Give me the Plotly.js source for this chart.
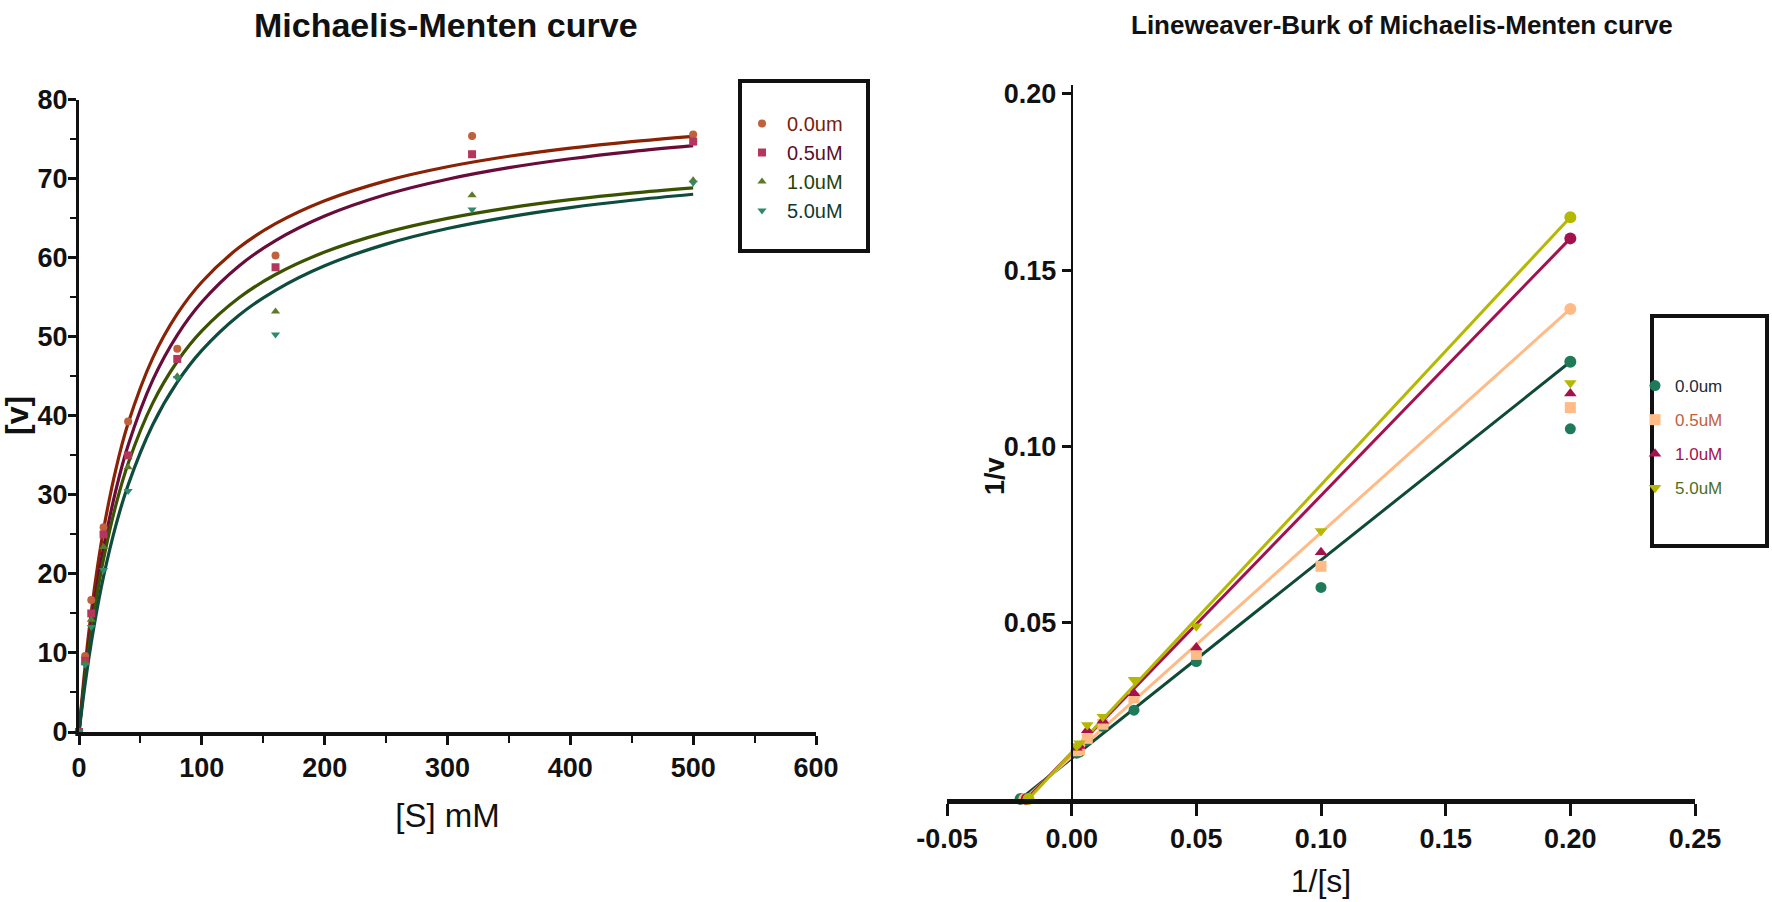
<!DOCTYPE html>
<html><head><meta charset="utf-8">
<script src="https://cdn.plot.ly/plotly-3.0.1.min.js"></script>
<style>html,body{margin:0;padding:0;background:#fff}#chart{width:1772px;height:902px}</style>
</head><body><div id="chart"></div>
<script>
// ---------- data: left (Michaelis-Menten) ----------
const seriesNames = ['0.0um', '0.5uM', '1.0uM', '5.0uM'];
const substrate = [0, 5, 10, 20, 40, 80, 160, 320, 500];
const v00 = [0, 9.6, 16.7, 25.9, 39.3, 48.5, 60.3, 75.4, 75.6];
const v05 = [0, 9.0, 15.0, 25.0, 35.0, 47.2, 58.8, 73.1, 74.7];
const v10 = [0, 8.7, 14.2, 23.4, 33.5, 45.0, 53.2, 67.9, 69.8];
const v50 = [0, 8.5, 13.3, 20.5, 30.5, 44.8, 50.3, 66.1, 69.5];

// fitted curves
const curveS = [0, 5, 10, 15, 20, 30, 40, 60, 80, 100, 130, 160, 200, 250, 300, 350, 400, 450, 500];
const curve00 = [0, 8.37, 15.19, 20.85, 25.63, 33.24, 39.05, 47.31, 52.90, 56.94, 61.26, 64.31, 67.21, 69.73, 71.51, 72.84, 73.87, 74.70, 75.37];
const curve05 = [0, 7.42, 13.60, 18.83, 23.31, 30.60, 36.27, 44.51, 50.22, 54.40, 58.93, 62.17, 65.28, 68.00, 69.94, 71.40, 72.53, 73.44, 74.18];
const curve10 = [0, 7.00, 12.81, 17.72, 21.91, 28.71, 33.98, 41.61, 46.88, 50.74, 54.91, 57.88, 60.72, 63.21, 64.99, 66.32, 67.35, 68.18, 68.85];
const curve50 = [0, 6.11, 11.31, 15.79, 19.69, 26.14, 31.26, 38.87, 44.26, 48.28, 52.70, 55.89, 58.99, 61.73, 63.70, 65.18, 66.35, 67.28, 68.04];

// ---------- data: right (Lineweaver-Burk) ----------
const invS = [0.2, 0.1, 0.05, 0.025, 0.0125, 0.00625, 0.003125, 0.002];
const invV00 = [0.105, 0.060, 0.039, 0.0252, 0.0206, 0.0166, 0.0133, 0.0130];
const invV05 = [0.111, 0.066, 0.041, 0.0287, 0.0212, 0.0172, 0.0140, 0.0137];
const invV10 = [0.115, 0.070, 0.043, 0.0300, 0.0222, 0.0195, 0.0150, 0.0145];
const invV50 = [0.118, 0.076, 0.049, 0.0338, 0.0233, 0.0210, 0.0158, 0.0150];

const fitX00 = [-0.0205, 0.2], fitY00 = [0, 0.124];
const fitX05 = [-0.0190, 0.2], fitY05 = [0, 0.139];
const fitX10 = [-0.0180, 0.2], fitY10 = [0, 0.159];
const fitX50 = [-0.0173, 0.2], fitY50 = [0, 0.165];

const leftXTicks = [0, 100, 200, 300, 400, 500, 600];
const rightXTickVals = [-0.05, 0, 0.05, 0.10, 0.15, 0.20, 0.25];
const rightXTickText = ['-0.05', '0.00', '0.05', '0.10', '0.15', '0.20', '0.25'];
const rightYTickVals = [0.05, 0.10, 0.15, 0.20];
const rightYTickText = ['0.05', '0.10', '0.15', '0.20'];

// ---------- styles ----------
const W = 1772, H = 902;
const SANS = '"Liberation Sans", Arial, Helvetica, sans-serif';

const leftMarkerCol = ['#c0603c', '#b5365c', '#5c7a2a', '#2f8a6c'];
const leftCurveCol = ['#8a2306', '#6a0c3a', '#3b5200', '#0e4c3e'];
const leftTextCol = ['#7a1d0c', '#5a0f2c', '#24420a', '#0f3a2e'];
const leftSymbols = ['circle', 'square', 'triangle-up', 'triangle-down'];

const rightMarkerCol = ['#1f7a5a', '#ffba85', '#a3124e', '#b5b800'];
const rightLineCol = ['#0e4a35', '#ffba85', '#a3124e', '#b5b800'];
const rightTextCol = ['#1c2b38', '#c2603c', '#a3124e', '#4e6e1c'];

const Lx = [79 / W, 816 / W];
const Ly = [(H - 732) / H, (H - 99.7) / H];
const Rx = [947 / W, 1695 / W];
const Ry = [(H - 799) / H, (H - 85) / H];
const rXRange = [-0.05, 0.25];
const rYRange = [0, 0.2025];
const rYpos = Rx[0] + (0 - rXRange[0]) / (rXRange[1] - rXRange[0]) * (Rx[1] - Rx[0]);

const vSets = [v00, v05, v10, v50];
const curves = [curve00, curve05, curve10, curve50];
const invSets = [invV00, invV05, invV10, invV50];
const fits = [[fitX00, fitY00], [fitX05, fitY05], [fitX10, fitY10], [fitX50, fitY50]];

const traces = [];
curves.forEach((c, i) => traces.push({
  x: curveS, y: c, xaxis: 'x', yaxis: 'y', mode: 'lines',
  line: {color: leftCurveCol[i], width: 3.2, shape: 'spline', smoothing: 1},
  showlegend: false, hoverinfo: 'skip'
}));
vSets.forEach((v, i) => traces.push({
  x: substrate, y: v, xaxis: 'x', yaxis: 'y', mode: 'markers',
  marker: {color: leftMarkerCol[i], symbol: leftSymbols[i], size: 8},
  name: '<span style="color:' + leftTextCol[i] + '">' + seriesNames[i] + '</span>',
  legend: 'legend', cliponaxis: false
}));
fits.forEach((f, i) => traces.push({
  x: f[0], y: f[1], xaxis: 'x2', yaxis: 'y2', mode: 'lines+markers',
  line: {color: rightLineCol[i], width: 3},
  marker: {color: rightMarkerCol[i], symbol: 'circle', size: 12},
  showlegend: false, hoverinfo: 'skip', cliponaxis: false
}));
invSets.forEach((v, i) => traces.push({
  x: invS, y: v, xaxis: 'x2', yaxis: 'y2', mode: 'markers',
  marker: {color: rightMarkerCol[i], symbol: leftSymbols[i], size: 11},
  name: '<span style="color:' + rightTextCol[i] + '">' + seriesNames[i] + '</span>',
  legend: 'legend2', legendgroup: 'g' + i, cliponaxis: false
}));

const tickFont = {family: SANS, size: 27, color: '#111', weight: 'bold'};

const layout = {
  width: W, height: H,
  margin: {l: 0, r: 0, t: 0, b: 0},
  paper_bgcolor: '#fff', plot_bgcolor: 'rgba(0,0,0,0)',
  showlegend: true,
  xaxis: {
    domain: Lx, anchor: 'y', range: [0, 600], tickmode: 'array', tickvals: leftXTicks,
    showline: true, linewidth: 4, linecolor: '#111', showgrid: false, zeroline: false,
    ticks: 'outside', ticklen: 9, tickwidth: 3, tickcolor: '#111',
    minor: {tickmode: 'linear', tick0: 0, dtick: 50, ticks: 'outside', ticklen: 7, tickwidth: 2, tickcolor: '#111'},
    tickfont: tickFont,
    title: {text: '[S] mM', font: {family: SANS, size: 33, color: '#111'}, standoff: 22}
  },
  yaxis: {
    domain: Ly, anchor: 'x', range: [0, 80], tickmode: 'linear', tick0: 0, dtick: 10,
    showline: true, linewidth: 3, linecolor: '#111', showgrid: false, zeroline: false,
    ticks: 'outside', ticklen: 8, tickwidth: 3, tickcolor: '#111', ticklabelstandoff: -5,
    minor: {tickmode: 'linear', tick0: 0, dtick: 5, ticks: 'outside', ticklen: 6, tickwidth: 2, tickcolor: '#111'},
    tickfont: tickFont
  },
  xaxis2: {
    domain: Rx, anchor: 'y2', range: rXRange, tickmode: 'array', tickvals: rightXTickVals, ticktext: rightXTickText,
    showline: true, linewidth: 5, linecolor: '#111', showgrid: false, zeroline: false,
    ticks: 'outside', ticklen: 12, tickwidth: 3, tickcolor: '#111',
    tickfont: tickFont,
    title: {text: '1/[s]', font: {family: SANS, size: 32, color: '#111'}, standoff: 18}
  },
  yaxis2: {
    domain: Ry, anchor: 'free', position: rYpos, range: rYRange, tickmode: 'array',
    tickvals: rightYTickVals, ticktext: rightYTickText,
    showline: true, linewidth: 2, linecolor: '#111', showgrid: false, zeroline: false,
    ticks: 'outside', ticklen: 9, tickwidth: 3, tickcolor: '#111',
    tickfont: tickFont
  },
  legend: {
    x: 737 / W, y: 1 - 104 / H, xanchor: 'left', yanchor: 'top',
    bgcolor: 'rgba(0,0,0,0)', borderwidth: 0, itemwidth: 40,
    font: {family: SANS, size: 20}, tracegroupgap: 0
  },
  legend2: {
    x: 1635 / W, y: 1 - 368 / H, xanchor: 'left', yanchor: 'top',
    bgcolor: 'rgba(0,0,0,0)', borderwidth: 0, itemwidth: 30,
    font: {family: SANS, size: 17}, traceorder: 'grouped', tracegroupgap: 9
  },
  shapes: [
    {type: 'rect', xref: 'paper', yref: 'paper', x0: 740 / W, x1: 868 / W, y0: 1 - 251 / H, y1: 1 - 81 / H,
     line: {color: '#111', width: 4}},
    {type: 'rect', xref: 'paper', yref: 'paper', x0: 1652 / W, x1: 1767 / W, y0: 1 - 546 / H, y1: 1 - 316 / H,
     line: {color: '#111', width: 4}}
  ],
  annotations: [
    {text: 'Michaelis-Menten curve', xref: 'paper', yref: 'paper', x: 446 / W, y: 1 - 25 / H,
     xanchor: 'center', yanchor: 'middle', showarrow: false,
     font: {family: SANS, size: 34, color: '#111', weight: 'bold'}},
    {text: 'Lineweaver-Burk of Michaelis-Menten curve', xref: 'paper', yref: 'paper', x: 1402 / W, y: 1 - 25 / H,
     xanchor: 'center', yanchor: 'middle', showarrow: false,
     font: {family: SANS, size: 26, color: '#111', weight: 'bold'}},
    {text: '[v]', xref: 'paper', yref: 'paper', x: 17 / W, y: 1 - 416 / H, textangle: -90,
     xanchor: 'center', yanchor: 'middle', showarrow: false,
     font: {family: SANS, size: 32, color: '#111', weight: 'bold'}},
    {text: '1/v', xref: 'paper', yref: 'paper', x: 995 / W, y: 1 - 476 / H, textangle: -90,
     xanchor: 'center', yanchor: 'middle', showarrow: false,
     font: {family: SANS, size: 27, color: '#111', weight: 'bold'}}
  ]
};

Plotly.newPlot('chart', traces, layout, {staticPlot: true, displayModeBar: false});
</script>
</body></html>
